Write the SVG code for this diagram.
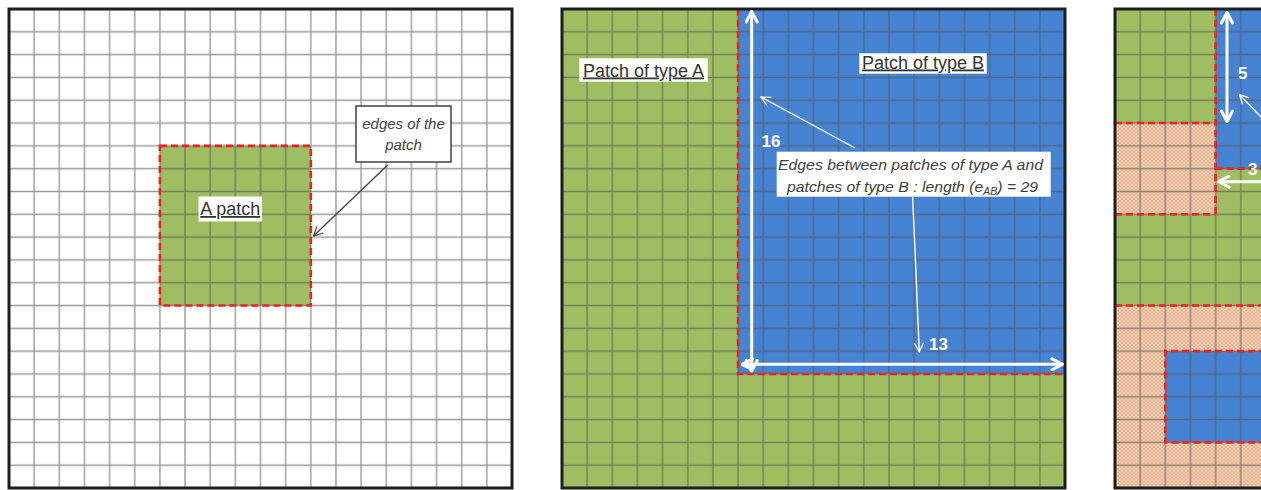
<svg xmlns="http://www.w3.org/2000/svg" width="1261" height="490" viewBox="0 0 1261 490">
  <style>
    .frame{fill:none;stroke:#1e1e1e;stroke-width:3}
    .green{fill:#9fbe62}
    .blue{fill:#4783d3}
    .peach{fill:url(#dots)}
    .gridfill{fill:url(#grid)}
    .edge{fill:none;stroke:#ee2222;stroke-width:2.6;stroke-dasharray:7 4}
    .lbl{font-family:"Liberation Sans",Arial,sans-serif;font-size:18px;fill:#333;text-decoration:underline}
    .lblbox{fill:#fff}
    .note{font-family:"Liberation Sans",Arial,sans-serif;font-style:italic;font-size:15px;fill:#404040}
    .num{font-family:"Liberation Sans",Arial,sans-serif;font-weight:bold;font-size:17px;fill:#fff}
    .ptr-dark{fill:none;stroke:#404040;stroke-width:1.3;marker-end:url(#headDark)}
    .ptr-white{fill:none;stroke:#fff;stroke-width:1.4;marker-end:url(#headWhite)}
    .dim{fill:none;stroke:#fff;stroke-width:3;marker-start:url(#headBold);marker-end:url(#headBold)}
  </style>
  <defs>
    <pattern id="grid" patternUnits="userSpaceOnUse" x="-12.575" y="-11.405" width="25.15" height="22.81">
      <path d="M12.575,0 V22.81 M0,11.405 H25.15" stroke="#555" stroke-opacity="0.6" stroke-width="1.4" fill="none"/>
    </pattern>
    <pattern id="dots" patternUnits="userSpaceOnUse" width="4" height="3.6">
      <rect width="4" height="3.6" fill="#f6cfb0"/>
      <circle cx="1" cy="0.9" r="0.65" fill="#b98062"/>
      <circle cx="3" cy="2.7" r="0.65" fill="#b98062"/>
    </pattern>
    <marker id="headDark" viewBox="0 0 12 12" refX="11" refY="6" markerWidth="11" markerHeight="11" markerUnits="userSpaceOnUse" orient="auto-start-reverse">
      <path d="M1,1 L11,6 L1,11" fill="none" stroke="#404040" stroke-width="1.3"/>
    </marker>
    <marker id="headWhite" viewBox="0 0 12 12" refX="11" refY="6" markerWidth="11" markerHeight="11" markerUnits="userSpaceOnUse" orient="auto-start-reverse">
      <path d="M1,1 L11,6 L1,11" fill="none" stroke="#fff" stroke-width="1.4"/>
    </marker>
    <marker id="headBold" viewBox="0 0 14 14" refX="12.5" refY="7" markerWidth="14" markerHeight="14" markerUnits="userSpaceOnUse" orient="auto-start-reverse">
      <path d="M2,1.5 L12.5,7 L2,12.5" fill="none" stroke="#fff" stroke-width="3" stroke-linecap="round" stroke-linejoin="round"/>
    </marker>
  </defs>

  <!-- Panel 1 -->
  <g id="panel-1" transform="translate(9,9)">
    <rect x="0" y="0" width="503" height="479" fill="#fff"/>
    <g id="patch-a">
      <rect class="green" x="150.9" y="136.86" width="150.9" height="159.67"/>
    </g>
    <rect class="gridfill" x="0" y="0" width="503" height="479"/>
    <rect class="edge" x="150.9" y="136.86" width="150.9" height="159.67"/>
    <rect class="frame" x="0" y="0" width="503" height="479"/>
  </g>

  <!-- Panel 2 -->
  <g id="panel-2" transform="translate(562,9)">
    <rect class="green" x="0" y="0" width="503" height="479"/>
    <g id="patch-type-b">
      <rect class="blue" x="176.05" y="0" width="326.95" height="364.96"/>
    </g>
    <rect class="gridfill" x="0" y="0" width="503" height="479"/>
    <path class="edge" d="M176.05,0 V364.96 H503"/>
    <rect class="frame" x="0" y="0" width="503" height="479"/>
  </g>

  <!-- Panel 3 -->
  <g id="panel-3" transform="translate(1115,9)">
    <rect class="green" x="0" y="0" width="503" height="479"/>
    <g id="patch-blue-top"><rect class="blue" x="100.6" y="0" width="402.4" height="159.67"/></g>
    <g id="patch-peach-left"><rect class="peach" x="0" y="114.05" width="100.6" height="91.24"/></g>
    <g id="patch-peach-bottom"><rect class="peach" x="0" y="296.53" width="503" height="182.47"/></g>
    <g id="patch-blue-bottom"><rect class="blue" x="50.3" y="342.15" width="452.7" height="91.24"/></g>
    <rect class="gridfill" x="0" y="0" width="503" height="479"/>
    <path class="edge" d="M100.6,0 V205.29 M0,114.05 H100.6 M0,205.29 H100.6 M100.6,159.67 H503 M0,296.53 H503 M503,342.15 H50.3 V433.39 H503"/>
    <rect class="frame" x="0" y="0" width="503" height="479"/>
  </g>

  <!-- Connectors -->
  <g id="connectors">
    <path class="ptr-dark" d="M387.7,165 L313.5,236"/>
    <path class="ptr-white" d="M855,148 L761,97"/>
    <path class="ptr-white" d="M912.7,197 L919.3,352"/>
    <path class="dim" d="M751.7,11.5 V371"/>
    <path class="dim" d="M742,364.3 H1062.5"/>
    <path class="dim" d="M1227,12.5 V121.5"/>
    <path fill="none" stroke="#fff" stroke-width="3" marker-start="url(#headBold)" d="M1218.5,181.7 H1275"/>
    <path class="ptr-white" d="M1263,119 L1239.5,94.5"/>
  </g>

  <!-- Labels -->
  <g id="label-a-patch">
    <rect class="lblbox" x="198.5" y="196.5" width="63.5" height="25"/>
    <text class="lbl" x="230.2" y="215" text-anchor="middle">A patch</text>
  </g>
  <g id="callout-edges-of-patch">
    <rect x="356" y="106" width="95" height="56" fill="#fff" stroke="#404040" stroke-width="1.5"/>
    <text class="note" x="403.5" y="128.5" text-anchor="middle">edges of the</text>
    <text class="note" x="403.5" y="150" text-anchor="middle">patch</text>
  </g>
  <g id="label-type-a">
    <rect class="lblbox" x="579.3" y="58.3" width="128.4" height="23.4"/>
    <text class="lbl" x="643.5" y="76.5" text-anchor="middle">Patch of type A</text>
  </g>
  <g id="label-type-b">
    <rect class="lblbox" x="859.3" y="53.3" width="127.4" height="20.4"/>
    <text class="lbl" x="923" y="68.5" text-anchor="middle">Patch of type B</text>
  </g>
  <g id="callout-edges-ab">
    <rect x="776.7" y="151.7" width="274" height="45" fill="#fff"/>
    <text class="note" x="778" y="169.5" textLength="265" lengthAdjust="spacingAndGlyphs">Edges between patches of type A and</text>
    <text class="note" x="787" y="191.5" textLength="251" lengthAdjust="spacingAndGlyphs">patches of type B : length (e<tspan font-size="10" dy="3">AB</tspan><tspan dy="-3">) = 29</tspan></text>
  </g>
  <g id="dimension-labels">
    <text class="num" x="761.5" y="147">16</text>
    <text class="num" x="929" y="349.5">13</text>
    <text class="num" x="1238" y="78.5">5</text>
    <text class="num" x="1248" y="174.5">3</text>
  </g>
</svg>
